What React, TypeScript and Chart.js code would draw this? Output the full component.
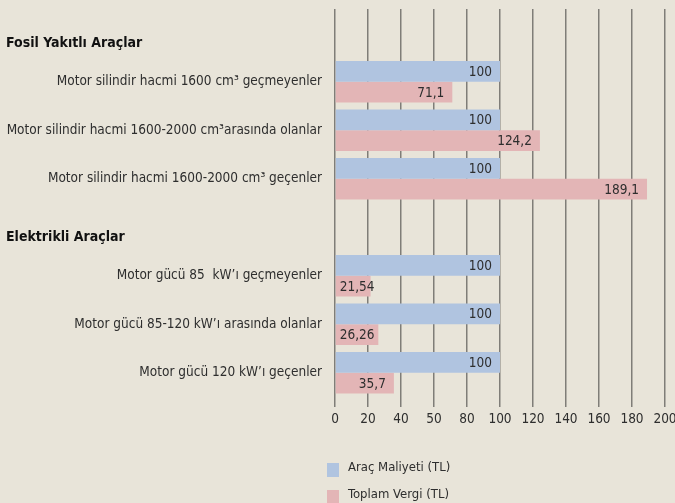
import React, { useEffect, useRef } from 'react';
import { Chart, registerables } from 'chart.js';

Chart.register(...registerables);

const categories = [
  'Fosil Yakıtlı Araçlar',
  'Motor silindir hacmi 1600 cm³ geçmeyenler',
  'Motor silindir hacmi 1600-2000 cm³arasında olanlar',
  'Motor silindir hacmi 1600-2000 cm³ geçenler',
  'Elektrikli Araçlar',
  'Motor gücü 85  kW’ı geçmeyenler',
  'Motor gücü 85-120 kW’ı arasında olanlar',
  'Motor gücü 120 kW’ı geçenler',
];
const groupHeaders = ['Fosil Yakıtlı Araçlar', 'Elektrikli Araçlar'];
const seriesNames = ['Araç Maliyeti (TL)', 'Toplam Vergi (TL)'];
const aracMaliyeti = [null, 100, 100, 100, null, 100, 100, 100];
const toplamVergi = [null, 71.1, 124.2, 189.1, null, 21.54, 26.26, 35.7];
const xTickLabels = ['0', '20', '40', '50', '80', '100', '120', '140', '160', '180', '200'];

const BG = '#e8e4d9';
const BLUE = '#b0c4e0';
const PINK = '#e3b5b6';
const GRID = '#7f7d78';
const TEXT = '#2e2e2e';
const FONT = "'DejaVu Sans Condensed', 'Liberation Sans Narrow', 'Roboto', sans-serif";

const fmt = (v: number) => String(v).replace('.', ',');

const valueLabels = {
  id: 'valueLabels',
  afterDatasetsDraw(chart: any) {
    const ctx = chart.ctx;
    ctx.save();
    ctx.font = `13.5px ${FONT}`;
    ctx.fillStyle = TEXT;
    ctx.textBaseline = 'middle';
    ctx.textAlign = 'left';
    chart.data.datasets.forEach((ds: any, di: number) => {
      const meta = chart.getDatasetMeta(di);
      meta.data.forEach((el: any, i: number) => {
        const v = ds.data[i];
        if (v == null) return;
        const txt = fmt(v);
        const w = ctx.measureText(txt).width;
        const x = Math.max(el.x - 8 - w, el.base + 4);
        ctx.fillText(txt, x, el.y + 1);
      });
    });
    ctx.restore();
  },
};

const headersAndLegend = {
  id: 'headersAndLegend',
  afterDraw(chart: any) {
    const ctx = chart.ctx;
    const y = chart.scales.y;
    ctx.save();
    ctx.font = `bold 14px ${FONT}`;
    ctx.fillStyle = '#111';
    ctx.textBaseline = 'middle';
    ctx.textAlign = 'left';
    groupHeaders.forEach((h) => {
      const idx = categories.indexOf(h);
      ctx.fillText(h, 6, y.getPixelForValue(idx) + 10);
    });
    // legend
    ctx.font = `13px ${FONT}`;
    chart.data.datasets.forEach((ds: any, i: number) => {
      const cy = chart.height - 33 + i * 27;
      ctx.fillStyle = ds.backgroundColor;
      ctx.fillRect(327, cy - 7, 12, 14);
      ctx.fillStyle = TEXT;
      ctx.fillText(ds.label, 348, cy - 2);
    });
    ctx.restore();
  },
};

export default function App() {
  const ref = useRef<HTMLCanvasElement>(null);
  useEffect(() => {
    if (!ref.current) return;
    const chart = new Chart(ref.current, {
      type: 'bar',
      data: {
        labels: categories,
        datasets: [
          { label: seriesNames[0], data: aracMaliyeti as any, backgroundColor: BLUE, categoryPercentage: 0.854, barPercentage: 1 },
          { label: seriesNames[1], data: toplamVergi as any, backgroundColor: PINK, categoryPercentage: 0.854, barPercentage: 1 },
        ],
      },
      options: {
        indexAxis: 'y',
        animation: false,
        responsive: false,
        layout: { padding: { top: 9, bottom: 74, right: 10, left: 0 } },
        plugins: { legend: { display: false }, tooltip: { enabled: false } },
        scales: {
          x: {
            min: 0,
            max: 200,
            ticks: {
              stepSize: 20,
              padding: 4,
              color: TEXT,
              font: { family: FONT, size: 13.5 },
              callback: (_v: any, i: number) => xTickLabels[i],
            },
            grid: { color: GRID, lineWidth: 1.5, tickLength: 10, drawTicks: true },
            border: { display: false },
            afterFit: (s: any) => {
              s.height = 32;
              s.paddingLeft = 0;
              s.paddingRight = 0;
            },
          },
          y: {
            ticks: {
              padding: 13,
              color: TEXT,
              font: { family: FONT, size: 13.5 },
              autoSkip: false,
              callback: (_v: any, i: number) => (groupHeaders.includes(categories[i]) ? '' : categories[i]),
            },
            grid: { display: false, drawTicks: false },
            border: { display: false },
            afterFit: (s: any) => {
              s.width = 335;
              s.paddingTop = 0;
              s.paddingBottom = 0;
            },
          },
        },
      },
      plugins: [valueLabels, headersAndLegend],
    });
    return () => chart.destroy();
  }, []);
  return (
    <div style={{ position: 'fixed', left: 0, top: 0, width: 675, height: 503, background: BG }}>
      <canvas ref={ref} width={675} height={503} style={{ display: 'block' }} />
    </div>
  );
}
